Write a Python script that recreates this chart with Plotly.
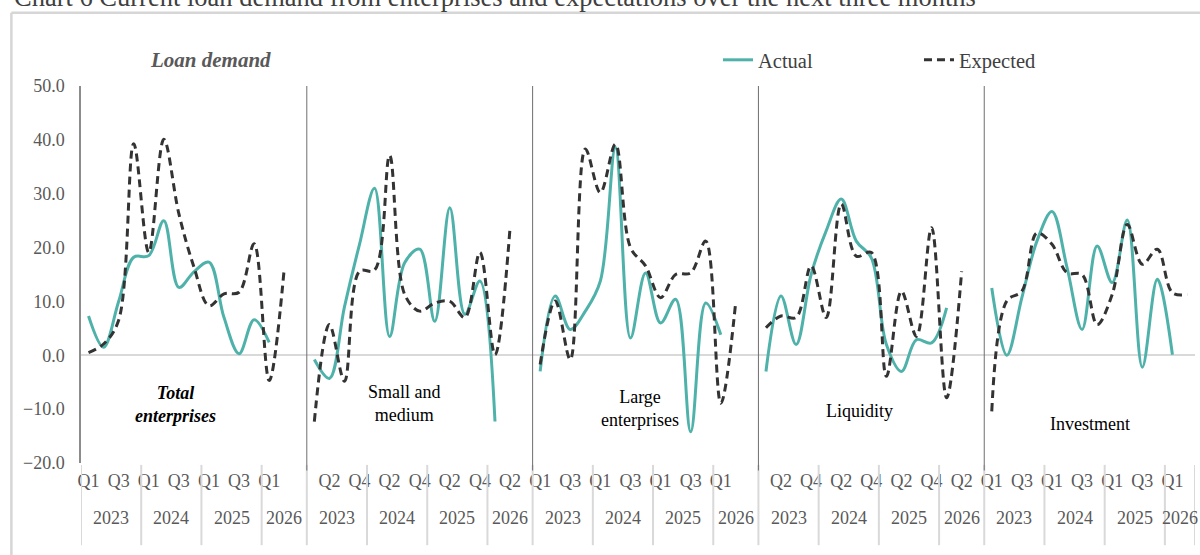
import plotly.graph_objects as go

# ---------------- data ----------------
panel_names = ["Total enterprises", "Small and medium", "Large enterprises", "Liquidity", "Investment"]
period_years = ["2023", "2023", "2023", "2023", "2024", "2024", "2024", "2024",
                "2025", "2025", "2025", "2025", "2026", "2026"]
period_quarters = ["Q1", "Q2", "Q3", "Q4", "Q1", "Q2", "Q3", "Q4",
                   "Q1", "Q2", "Q3", "Q4", "Q1", "Q2"]

total_actual = [7.3, 1.5, 10.0, 18.2, 18.5, 25.0, 12.6, 15.5, 17.3, 7.0, 0.3, 6.6, 2.4]
total_expected = [0.5, 2.1, 6.5, 39.3, 19.1, 40.1, 26.3, 16.4, 9.2, 11.4, 11.7, 20.7, -4.7, 16.1]

sme_actual = [-0.8, -4.3, 9.0, 20.6, 31.0, 3.5, 17.2, 19.7, 6.3, 27.4, 7.6, 13.8, -12.3]
sme_expected = [-12.3, 5.7, -4.8, 15.6, 15.8, 37.1, 11.3, 8.2, 9.7, 10.0, 7.0, 19.1, 0.1, 23.7]

large_actual = [-3.0, 11.0, 4.8, 8.2, 13.8, 38.6, 3.2, 15.3, 6.0, 10.4, -14.2, 9.7, 3.8]
large_expected = [-1.7, 10.1, -0.8, 38.3, 30.2, 39.2, 20.0, 16.6, 10.7, 15.0, 15.3, 21.2, -8.9, 10.1]

liquidity_actual = [-3.0, 11.0, 2.0, 15.0, 23.1, 29.0, 21.2, 18.1, 2.0, -3.0, 2.9, 2.3, 8.8]
liquidity_expected = [5.1, 7.3, 7.0, 16.6, 7.0, 28.1, 18.4, 19.1, -3.9, 11.9, 3.5, 23.7, -7.9, 15.6]

investment_actual = [12.5, 0.0, 10.7, 21.2, 26.7, 16.3, 4.8, 20.3, 13.5, 25.1, -2.2, 14.1, 0.1]
investment_expected = [-10.4, 10.1, 11.9, 22.7, 20.6, 15.3, 15.0, 5.7, 11.3, 24.3, 16.9, 19.7, 11.6, 11.3]

y_ticks = [-20, -10, 0, 10, 20, 30, 40, 50]

actual_series = [total_actual, sme_actual, large_actual, liquidity_actual, investment_actual]
expected_series = [total_expected, sme_expected, large_expected, liquidity_expected, investment_expected]

# ---------------- category axis (with a blank spacer after each panel) ----------------
cat_panel, cat_year, cat_quarter = [], [], []
for p in range(len(panel_names)):
    for yv, qv in zip(period_years, period_quarters):
        cat_panel.append(p)
        cat_year.append(yv)
        cat_quarter.append(qv)
    if p < len(panel_names) - 1:
        cat_panel.append(p)
        cat_year.append(period_years[-1])
        cat_quarter.append("")
n_cat = len(cat_panel)


def panel_positions(p, n):
    idx = [k for k, c in enumerate(cat_panel) if c == p]
    return idx[:n]


TEAL = "#4FB2AA"
DARK = "#333333"
SERIF = "Liberation Serif, Times New Roman, serif"
GREY_TXT = "#595959"

fig = go.Figure()
for p in range(len(panel_names)):
    a = actual_series[p]
    e = expected_series[p]
    fig.add_trace(go.Scatter(
        x=panel_positions(p, len(a)), y=a, mode="lines", name="Actual",
        legendgroup="actual", showlegend=(p == 0),
        line=dict(color=TEAL, width=3, shape="spline", smoothing=1.0)))
    fig.add_trace(go.Scatter(
        x=panel_positions(p, len(e)), y=e, mode="lines", name="Expected",
        legendgroup="expected", showlegend=(p == 0),
        line=dict(color=DARK, width=3, dash="8px,5px", shape="spline", smoothing=1.0)))

# quarter tick labels every second category
tickvals = [k for k in range(n_cat) if k % 2 == 0]
ticktext = [cat_quarter[k] for k in tickvals]

shapes = []
annotations = []

# year group labels and light dividers
groups = []
start = 0
for k in range(1, n_cat + 1):
    if k == n_cat or (cat_panel[k], cat_year[k]) != (cat_panel[start], cat_year[start]):
        groups.append((start, k - 1, cat_year[start]))
        start = k
for g0, g1, yv in groups:
    annotations.append(dict(x=(g0 + g1) / 2, y=-0.146, xref="x", yref="paper", text=yv,
                            showarrow=False, xanchor="center", yanchor="middle",
                            font=dict(family=SERIF, size=18, color=GREY_TXT)))
    shapes.append(dict(type="line", xref="x", yref="paper", x0=g0 - 0.5, x1=g0 - 0.5,
                       y0=-0.005, y1=-0.218, line=dict(color="#d9d9d9", width=2)))
shapes.append(dict(type="line", xref="x", yref="paper", x0=n_cat - 0.5, x1=n_cat - 0.5,
                   y0=-0.005, y1=-0.218, line=dict(color="#d9d9d9", width=2)))

# panel dividers
for p in range(1, len(panel_names)):
    xpos = cat_panel.index(p) - 0.5
    shapes.append(dict(type="line", xref="x", yref="paper", x0=xpos, x1=xpos,
                       y0=-0.02, y1=1.0, line=dict(color="#6e6e6e", width=1)))

# outer frame
shapes.append(dict(type="line", xref="paper", yref="paper", x0=-0.0625, x1=-0.0625,
                   y0=1.194, y1=-0.3, line=dict(color="#d6d6d6", width=2.5)))
shapes.append(dict(type="line", xref="paper", yref="paper", x0=-0.0625, x1=1.02,
                   y0=1.194, y1=1.194, line=dict(color="#d6d6d6", width=2.5)))

# panel labels
label_specs = [
    ("<b><i>Total<br>enterprises</i></b>", 5.8, -9.2),
    ("Small and<br>medium", 21.0, -9.0),
    ("Large<br>enterprises", 36.6, -9.8),
    ("Liquidity", 51.2, -10.3),
    ("Investment", 66.5, -12.7),
]
for txt, xv, yv in label_specs:
    annotations.append(dict(x=xv, y=yv, xref="x", yref="y", text=txt, showarrow=False,
                            xanchor="center",
                            font=dict(family=SERIF, size=18, color="#000000")))

annotations.append(dict(x=0.116, y=1.069, xref="paper", yref="paper", xanchor="center",
                        yanchor="middle",
                        text="<b><i>Loan demand</i></b>", showarrow=False,
                        font=dict(family=SERIF, size=21, color="#595959")))

annotations.append(dict(x=-0.062, y=1.236, xref="paper", yref="paper", xanchor="left",
                        yanchor="middle",
                        text="Chart 6 Current loan demand from enterprises and expectations over the next three months",
                        showarrow=False, font=dict(family=SERIF, size=26.5, color="#404040")))

fig.update_layout(
    width=1200, height=555,
    margin=dict(l=81, r=5, t=86, b=92, autoexpand=False),
    paper_bgcolor="white", plot_bgcolor="white",
    showlegend=True,
    legend=dict(orientation="h", x=0.5718, y=1.069, xanchor="left", yanchor="middle",
                font=dict(family=SERIF, size=20.5, color="#404040"),
                entrywidth=156, bgcolor="rgba(0,0,0,0)"),
    xaxis=dict(range=[-0.5, n_cat - 0.5], tickmode="array", tickvals=tickvals,
               ticktext=ticktext, showgrid=False, zeroline=False, showline=False,
               ticks="", tickangle=0, ticklabelstandoff=5,
               tickfont=dict(family=SERIF, size=18, color=GREY_TXT)),
    yaxis=dict(range=[-20, 50], tickmode="array", tickvals=y_ticks, tickformat=".1f",
               showgrid=False, zeroline=True, zerolinecolor="#d9d9d9", zerolinewidth=2,
               showline=True, linecolor="#8c8c8c", linewidth=1.5, ticks="",
               ticklabelstandoff=11,
               tickfont=dict(family=SERIF, size=18, color=GREY_TXT)),
    shapes=shapes, annotations=annotations,
)

fig.write_html("out.html", config={"displayModeBar": False},
               post_script="document.body.style.margin='0px';")
